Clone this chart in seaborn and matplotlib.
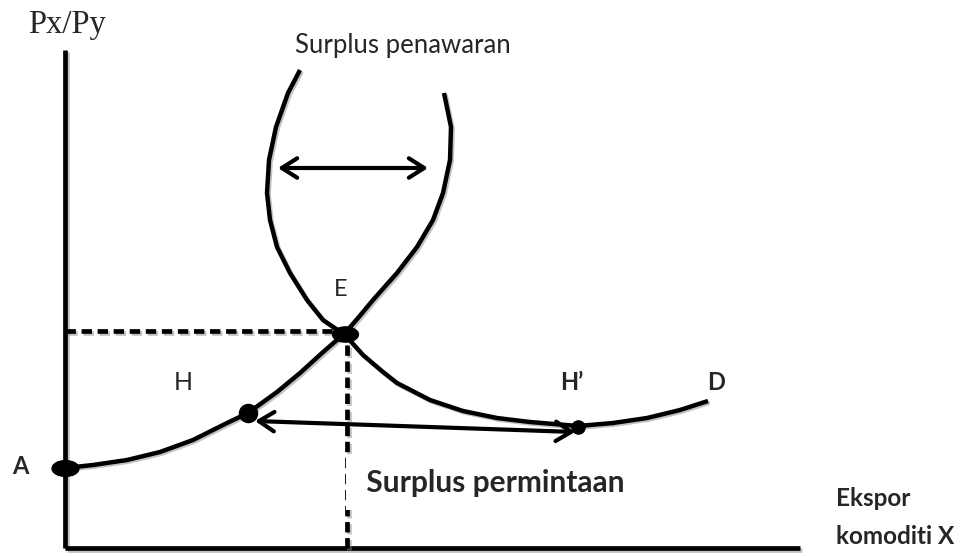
import numpy as np
import pandas as pd
import seaborn as sns
import matplotlib.pyplot as plt
from matplotlib.markers import MarkerStyle
from matplotlib.transforms import Affine2D
import matplotlib.patheffects as pe

sns.set_theme(style="white")
plt.rcParams['font.family'] = ['Lato', 'DejaVu Sans']

# ---- data (chart units, origin at axes corner) ----
supply_x = [0, 28, 62, 95, 128, 162, 183, 212, 235, 257, 280, 293, 308, 332, 352, 368, 378, 385, 386, 379]
supply_y = [80, 83, 88, 96, 108, 125, 135, 156, 175, 195, 215, 230, 248, 275, 301, 328, 355, 388, 421, 455]

demand_x = [235, 223, 211, 204, 202, 205, 212, 225, 242, 258, 280, 298, 318, 332, 365, 398, 432, 465, 513, 548, 582, 615, 643]
demand_y = [478, 455, 421, 388, 355, 328, 301, 275, 248, 228, 213, 193, 176, 165, 148, 137, 130, 126, 122, 125, 130, 138, 147]

point_names = ["A", "H", "E", "H'"]
point_x = [0, 183, 280, 513]
point_y = [80, 135, 214, 121]

eq_x, eq_y = 282, 217
axis_x_max, axis_y_max = 735, 498

top_arrow_x = [213, 363]
top_arrow_y = [380, 380]
bottom_arrow_x = [190, 510]
bottom_arrow_y = [127, 116]

fig = plt.figure(figsize=(9.61, 5.56), dpi=100)
ax = fig.add_axes([0, 0, 1, 1])
ax.set_xlim(-65, 896)
ax.set_ylim(-8, 548)
ax.axis('off')

shadow = [pe.SimpleLineShadow(offset=(1.2, -1.2), shadow_color='#888888', alpha=0.5), pe.Normal()]
lw = 3.2

# axes lines
ax.plot([0, 0], [0, axis_y_max], color='black', lw=3.4, solid_capstyle='butt', path_effects=shadow)
ax.plot([0, axis_x_max], [0, 0], color='black', lw=3.4, solid_capstyle='butt', path_effects=shadow)

# dashed guides
ax.plot([0, eq_x], [eq_y, eq_y], color='black', lw=3.4, dashes=(2.2, 1.2), path_effects=shadow)
ax.plot([eq_x, eq_x], [0, eq_y], color='black', lw=3.4, dashes=(2.2, 1.2), path_effects=shadow)

# curves
sup = pd.DataFrame({'x': supply_x, 'y': supply_y})
dem = pd.DataFrame({'x': demand_x, 'y': demand_y})
sns.lineplot(data=sup, x='x', y='y', sort=False, estimator=None, color='black', lw=lw, ax=ax)
sns.lineplot(data=dem, x='x', y='y', sort=False, estimator=None, color='black', lw=lw, ax=ax)
for l in ax.lines[-2:]:
    l.set_path_effects(shadow)
    l.set_solid_capstyle('butt')
    l.set_solid_joinstyle('round')

# arrows
for xs, ys in [(top_arrow_x, top_arrow_y), (bottom_arrow_x, bottom_arrow_y)]:
    ax.annotate('', xy=(xs[0], ys[0]), xytext=(xs[1], ys[1]),
                arrowprops=dict(arrowstyle='<->,head_length=0.55,head_width=0.35',
                                lw=3, color='black', shrinkA=0, shrinkB=0,
                                mutation_scale=20))

# points
wide = MarkerStyle('o', transform=Affine2D().scale(1.7, 1.0))
ax.scatter([point_x[0]], [point_y[0]], s=130, marker=wide, color='black', zorder=5)
ax.scatter([point_x[2]], [point_y[2]], s=120, marker=wide, color='black', zorder=5)
ax.scatter([point_x[1]], [point_y[1]], s=170, marker='o', color='black', zorder=5)
ax.scatter([point_x[3]], [point_y[3]], s=90, marker='o', color='black', zorder=5)

# labels
ax.text(2, 523, 'Px/Py', family=['Liberation Serif'], fontsize=23.5, ha='center', va='center')
ax.text(338, 503, 'Surplus penawaran', fontsize=18.5, ha='center', va='center')
ax.text(276, 258, 'E', fontsize=17, ha='center', va='center')
ax.text(118, 165, 'H', fontsize=18, ha='center', va='center')
ax.text(507, 165, 'H’', fontsize=17, fontweight='bold', ha='center', va='center')
ax.text(651, 165, 'D', fontsize=17, fontweight='bold', ha='center', va='center')
ax.text(-45, 81, 'A', fontsize=17, fontweight='bold', ha='center', va='center')
ax.text(294, 65, ' Surplus permintaan', fontsize=21.5, fontweight='bold', ha='left', va='center',
        bbox=dict(facecolor='white', edgecolor='none', boxstyle='square,pad=0.45'), zorder=6)
ax.text(771, 50, 'Ekspor', fontsize=17.5, fontweight='bold', ha='left', va='center')
ax.text(771, 11, 'komoditi X', fontsize=17.5, fontweight='bold', ha='left', va='center')

fig.savefig('out.png', dpi=100)
